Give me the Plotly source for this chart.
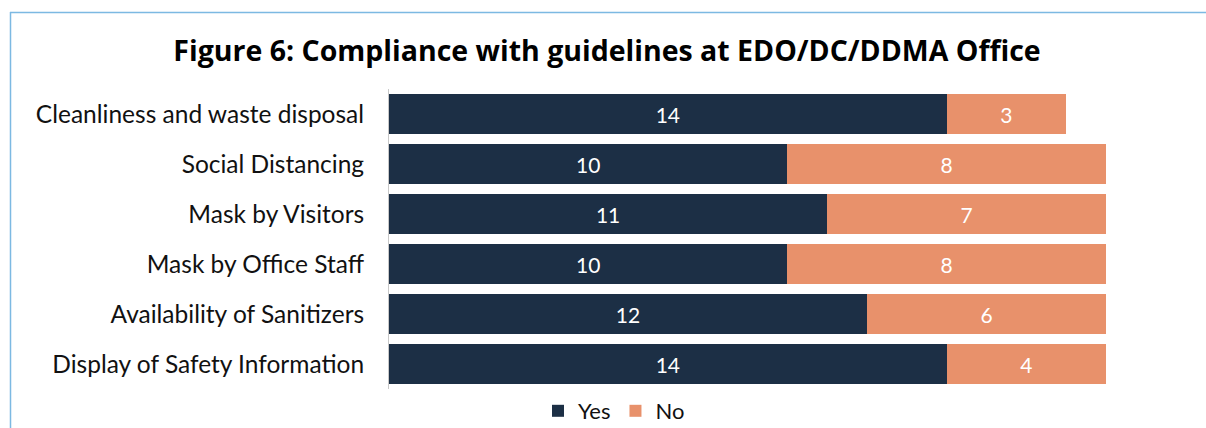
import plotly.graph_objects as go

categories = [
    "Cleanliness and waste disposal",
    "Social Distancing",
    "Mask by Visitors",
    "Mask by Office Staff",
    "Availability of Sanitizers",
    "Display of Safety Information",
]
yes_values = [14, 10, 11, 10, 12, 14]
no_values = [3, 8, 7, 8, 6, 4]

FONT = "Lato, 'Open Sans', sans-serif"
TFONT = "'Open Sans', Lato, sans-serif"

fig = go.Figure()
fig.add_trace(go.Bar(
    y=categories, x=yes_values, name="Yes", orientation="h",
    marker=dict(color="#1c2f45", line=dict(width=0)),
    text=yes_values, textposition="inside", insidetextanchor="middle",
    textfont=dict(color="white", size=21, family=FONT),
))
fig.add_trace(go.Bar(
    y=categories, x=no_values, name="No", orientation="h",
    marker=dict(color="#e8916b", line=dict(width=0)),
    text=no_values, textposition="inside", insidetextanchor="middle",
    textfont=dict(color="white", size=21, family=FONT),
))

L, R, T, B = 389, 100, 89, 39
W, H = 1206, 428
pw, ph = W - L - R, H - T - B

def px(x):
    return (x - L) / pw

def py(y):
    return (H - B - y) / ph

fig.update_layout(
    width=W, height=H, autosize=False,
    barmode="stack", bargap=0.2,
    margin=dict(l=L, r=R, t=T, b=B),
    paper_bgcolor="white", plot_bgcolor="white",
    font=dict(family=FONT, color="#111111"),
    title=dict(
        text="<b>Figure 6: Compliance with guidelines at EDO/DC/DDMA Office</b>",
        x=607 / W, xref="container", xanchor="center",
        y=(H - 51) / H, yref="container", yanchor="middle",
        font=dict(size=28.5, family=TFONT, color="#000000"),
    ),
    xaxis=dict(range=[0, 18], visible=False, fixedrange=True, automargin=False),
    yaxis=dict(
        categoryorder="array", categoryarray=categories[::-1],
        tickfont=dict(size=24.5, family=FONT, color="#111111"),
        ticks="", ticklabelstandoff=19, automargin=False,
        showline=True, linecolor="#c8c8c8", linewidth=1,
        showgrid=False, fixedrange=True,
    ),
    legend=dict(
        orientation="h",
        x=614 / W, xref="container", xanchor="center",
        y=(H - 411) / H, yref="container", yanchor="middle",
        font=dict(size=22, family=FONT, color="#111111"),
        traceorder="normal", itemwidth=30,
    ),
    shapes=[
        dict(type="line", xref="paper", yref="paper",
             x0=px(10), x1=px(1206), y0=py(12.5), y1=py(12.5),
             line=dict(color="#7cb9e2", width=1.5)),
        dict(type="line", xref="paper", yref="paper",
             x0=px(10.5), x1=px(10.5), y0=py(12), y1=py(428),
             line=dict(color="#7cb9e2", width=1.5)),
    ],
)

fig.write_html(
    "out.html",
    config={"displayModeBar": False},
    post_script="document.body.style.margin='0';document.body.style.overflow='hidden';",
)
